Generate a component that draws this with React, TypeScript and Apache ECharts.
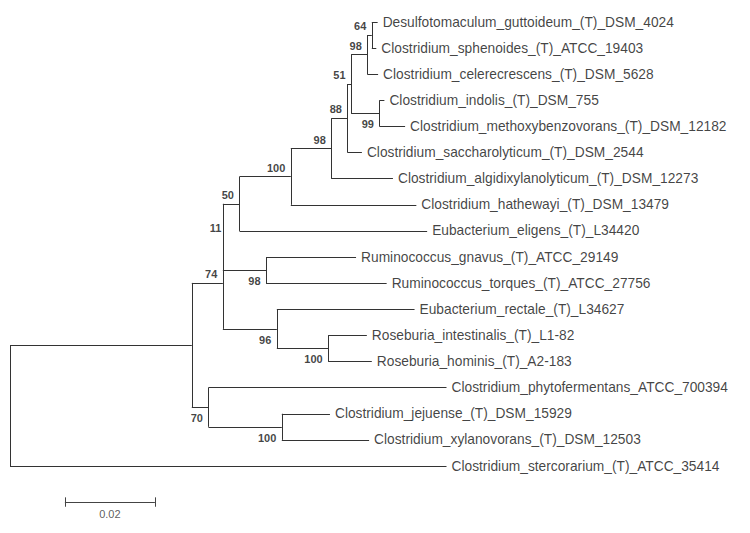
import React, { useEffect, useRef } from 'react';
import * as echarts from 'echarts';

// ---- Tree data ----
// Leaves, in display order (top to bottom)
const leafNames: string[] = [
  'Desulfotomaculum_guttoideum_(T)_DSM_4024',
  'Clostridium_sphenoides_(T)_ATCC_19403',
  'Clostridium_celerecrescens_(T)_DSM_5628',
  'Clostridium_indolis_(T)_DSM_755',
  'Clostridium_methoxybenzovorans_(T)_DSM_12182',
  'Clostridium_saccharolyticum_(T)_DSM_2544',
  'Clostridium_algidixylanolyticum_(T)_DSM_12273',
  'Clostridium_hathewayi_(T)_DSM_13479',
  'Eubacterium_eligens_(T)_L34420',
  'Ruminococcus_gnavus_(T)_ATCC_29149',
  'Ruminococcus_torques_(T)_ATCC_27756',
  'Eubacterium_rectale_(T)_L34627',
  'Roseburia_intestinalis_(T)_L1-82',
  'Roseburia_hominis_(T)_A2-183',
  'Clostridium_phytofermentans_ATCC_700394',
  'Clostridium_jejuense_(T)_DSM_15929',
  'Clostridium_xylanovorans_(T)_DSM_12503',
  'Clostridium_stercorarium_(T)_ATCC_35414',
];
// index of the internal node each leaf hangs from
const leafParent: number[] = [10, 10, 9, 11, 11, 7, 6, 5, 4, 12, 12, 13, 14, 14, 15, 16, 16, 0];
// distance of each leaf tip from the root (substitutions/site)
const leafDepth: number[] = [
  0.0817, 0.0814, 0.0818, 0.0832, 0.0878, 0.0782, 0.0851, 0.0903, 0.0927,
  0.0769, 0.0837, 0.0899, 0.0793, 0.0804, 0.0970, 0.0711, 0.0798, 0.0970,
];

// Internal nodes (index 0 = root); each parent index is lower than its children
const nodeParent: number[] = [-1, 0, 1, 2, 3, 4, 5, 6, 7, 8, 9, 8, 3, 2, 13, 1, 15];
const nodeDepth: number[] = [
  0, 0.0404, 0.0473, 0.0473, 0.0510, 0.0624, 0.0714, 0.0750, 0.0758,
  0.0794, 0.0804, 0.0821, 0.0569, 0.0593, 0.0707, 0.0441, 0.0604,
];
const nodeBootstrap: (number | null)[] = [
  null, null, 74, 11, 50, 100, 98, 88, 51, 98, 64, 99, 98, 96, 100, 70, 100,
];

// Scale bar
const scaleBarLength = 0.02;
const scaleBarLabel = '0.02';

// ---- Layout / style (not data) ----
const bootstrapSide: string[] = [
  '', '', 'above', 'aboveTight', 'above', 'above', 'above', 'above', 'above',
  'above', 'above', 'below', 'below', 'below', 'below', 'below', 'below',
];
const LINE_COLOR = '#333';
const FONT = 'Arial, "Liberation Sans", sans-serif';
const PX_PER_UNIT = 4500;
const ROW_PX = 26.118;
const SCALE_BAR_X = 0.0122;
const SCALE_BAR_ROW = 18.38;

function buildOption() {
  const nNodes = nodeParent.length;
  const childYs: number[][] = Array.from({ length: nNodes }, () => []);
  leafParent.forEach((p, i) => childYs[p].push(i));
  const nodeY: number[] = new Array(nNodes).fill(0);
  for (let k = nNodes - 1; k >= 0; k--) {
    const ys = childYs[k];
    nodeY[k] = (Math.min(...ys) + Math.max(...ys)) / 2;
    if (nodeParent[k] >= 0) childYs[nodeParent[k]].push(nodeY[k]);
  }

  const segs: number[][][] = [];
  for (let k = 0; k < nNodes; k++) {
    const ys = childYs[k];
    segs.push([[nodeDepth[k], Math.min(...ys)], [nodeDepth[k], Math.max(...ys)]]);
    if (nodeParent[k] >= 0) {
      segs.push([[nodeDepth[nodeParent[k]], nodeY[k]], [nodeDepth[k], nodeY[k]]]);
    }
  }
  leafParent.forEach((p, i) => {
    segs.push([[nodeDepth[p], i], [leafDepth[i], i]]);
  });

  // scale bar
  const sbTick = 4.7 / ROW_PX;
  const sbSegs = [
    [[SCALE_BAR_X, SCALE_BAR_ROW], [SCALE_BAR_X + scaleBarLength, SCALE_BAR_ROW]],
    [[SCALE_BAR_X, SCALE_BAR_ROW - sbTick], [SCALE_BAR_X, SCALE_BAR_ROW + sbTick]],
    [[SCALE_BAR_X + scaleBarLength, SCALE_BAR_ROW - sbTick], [SCALE_BAR_X + scaleBarLength, SCALE_BAR_ROW + sbTick]],
  ];

  const bootData: any[] = [];
  nodeBootstrap.forEach((b, k) => {
    if (b === null) return;
    const side = bootstrapSide[k];
    const dx = side === 'aboveTight' ? -1 : -5;
    const dy = side === 'below' ? 11.5 : -8.5;
    bootData.push({
      value: [nodeDepth[k], nodeY[k]],
      name: String(b),
      label: { position: [dx, dy] },
    });
  });

  const xMax = 0.1;
  const yMax = 19;

  return {
    animation: false,
    backgroundColor: '#fff',
    grid: {
      left: 10,
      top: 22,
      width: xMax * PX_PER_UNIT,
      height: yMax * ROW_PX,
    },
    xAxis: { type: 'value', min: 0, max: xMax, show: false },
    yAxis: { type: 'value', min: 0, max: yMax, inverse: true, show: false },
    series: [
      {
        type: 'lines',
        coordinateSystem: 'cartesian2d',
        clip: false,
        silent: true,
        lineStyle: { color: LINE_COLOR, width: 1, opacity: 1 },
        data: segs.map((c) => ({ coords: c })),
      },
      {
        type: 'lines',
        coordinateSystem: 'cartesian2d',
        clip: false,
        silent: true,
        lineStyle: { color: '#444', width: 1, opacity: 1 },
        data: sbSegs.map((c) => ({ coords: c })),
      },
      {
        type: 'scatter',
        silent: true,
        symbolSize: 1,
        itemStyle: { color: 'rgba(0,0,0,0)' },
        data: leafNames.map((n, i) => ({ value: [leafDepth[i], i], name: n })),
        label: {
          show: true,
          position: 'right',
          distance: 4.5,
          formatter: (p: any) => p.name,
          fontFamily: FONT,
          fontSize: 13.75,
          color: '#111',
        },
      },
      {
        type: 'scatter',
        silent: true,
        symbolSize: 1,
        itemStyle: { color: 'rgba(0,0,0,0)' },
        data: bootData,
        label: {
          show: true,
          align: 'right',
          verticalAlign: 'middle',
          formatter: (p: any) => p.name,
          fontFamily: FONT,
          fontSize: 11,
          fontWeight: 'bold',
          color: '#111',
        },
      },
      {
        type: 'scatter',
        silent: true,
        symbolSize: 1,
        itemStyle: { color: 'rgba(0,0,0,0)' },
        data: [{ value: [SCALE_BAR_X + scaleBarLength / 2, SCALE_BAR_ROW], name: scaleBarLabel }],
        label: {
          show: true,
          position: 'bottom',
          distance: 6,
          formatter: (p: any) => p.name,
          fontFamily: FONT,
          fontSize: 11,
          color: '#333',
        },
      },
    ],
  };
}

export default function App() {
  const ref = useRef<HTMLDivElement>(null);
  useEffect(() => {
    if (!ref.current) return;
    const chart = echarts.init(ref.current, null, { renderer: 'svg' });
    chart.setOption(buildOption() as any);
    return () => chart.dispose();
  }, []);
  return (
    <div
      ref={ref}
      style={{ position: 'absolute', left: 0, top: 0, width: 750, height: 533, background: '#fff' }}
    />
  );
}
